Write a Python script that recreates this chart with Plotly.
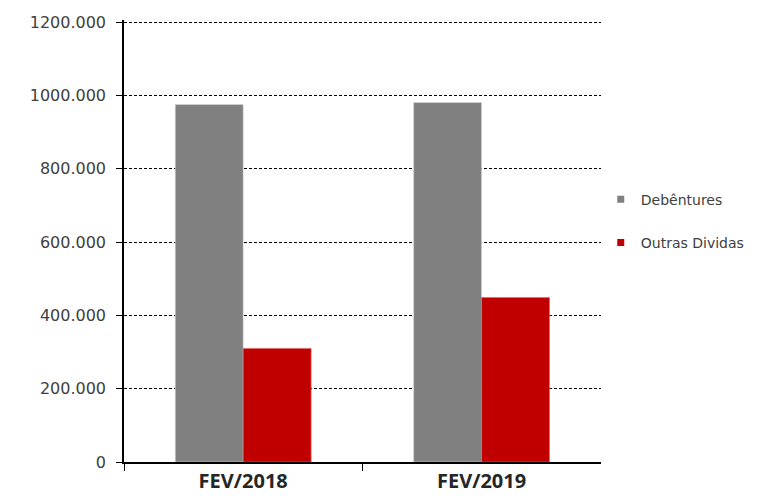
import plotly.graph_objects as go

categories = ["FEV/2018", "FEV/2019"]
debentures = [975500, 981000]
outras_dividas = [310000, 449000]
tick_values = [0, 200000, 400000, 600000, 800000, 1000000, 1200000]
tick_labels = ["0", "200.000", "400.000", "600.000", "800.000", "1000.000", "1200.000"]

gray = "#808080"
red = "#c00000"

fig = go.Figure()
fig.add_trace(go.Bar(x=categories, y=debentures, name="Debêntures",
                     marker=dict(color=gray, line=dict(color="#d9d9d9", width=0.6)),
                     showlegend=False))
fig.add_trace(go.Bar(x=categories, y=outras_dividas, name="Outras Dividas",
                     marker=dict(color=red, line=dict(color="#e06666", width=0.6)),
                     showlegend=False))
# legend entries with small square swatches
fig.add_trace(go.Scatter(x=[None], y=[None], mode="markers", name="Debêntures",
                         marker=dict(symbol="square", size=7, color=gray),
                         legendgroup="a"))
fig.add_trace(go.Scatter(x=[None], y=[None], mode="markers", name="Outras Dividas",
                         marker=dict(symbol="square", size=7, color=red),
                         legendgroup="b"))

fig.update_layout(
    width=758, height=497,
    margin=dict(l=116, r=164, t=12, b=43),
    paper_bgcolor="white", plot_bgcolor="white",
    barmode="group", bargap=0.43, bargroupgap=0,
    showlegend=True,
    legend=dict(xref="container", yref="container", x=0.782, xanchor="left",
                y=0.571, yanchor="middle",
                font=dict(family="DejaVu Sans", size=14, color="#404040"),
                tracegroupgap=22, itemwidth=30, bgcolor="rgba(0,0,0,0)"),
    xaxis=dict(type="category", tickson="boundaries", ticks="outside", ticklen=7,
               tickcolor="black", showline=True, linecolor="black", linewidth=1.5,
               tickfont=dict(family="Open Sans", size=20, color="#262626", weight="bold"),
               ticklabelstandoff=0,
               showgrid=False, automargin=False),
    yaxis=dict(range=[0, 1206000], tickvals=tick_values, ticktext=tick_labels,
               ticks="outside", ticklen=6, tickcolor="black",
               showline=True, linecolor="black", linewidth=1.5,
               showgrid=True, gridcolor="black", gridwidth=1, griddash="3px,2px",
               zeroline=False, automargin=False, ticklabelstandoff=7,
               tickfont=dict(family="DejaVu Sans", size=16, color="#404040")),
)
fig.write_html("out.html")
